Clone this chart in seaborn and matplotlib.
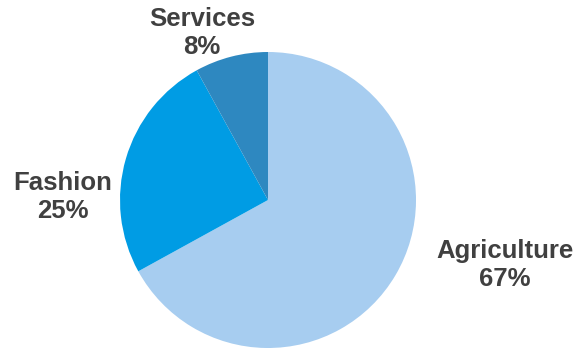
import matplotlib
matplotlib.use("Agg")
import matplotlib.pyplot as plt
import seaborn as sns

sns.set_style("white")
plt.rcParams['font.family'] = ['Liberation Sans', 'DejaVu Sans']

categories = ["Agriculture", "Fashion", "Services"]
values = [67, 25, 8]
colors = ["#A7CDF0", "#009CE4", "#2E88C0"]

W, H = 586, 349
fig = plt.figure(figsize=(W / 100, H / 100), dpi=100)
cx, cy, r = 268, 200, 148
ax = fig.add_axes([(cx - r) / W, (H - cy - r) / H, 2 * r / W, 2 * r / H])
ax.pie(values, colors=colors, startangle=90, counterclock=False, radius=1,
       wedgeprops=dict(linewidth=0))
ax.set_xlim(-1, 1)
ax.set_ylim(-1, 1)
ax.set_aspect("equal")
ax.axis("off")

label_pos = [(1.60, -0.44), (-1.385, 0.02), (-0.446, 1.128)]
total = sum(values)
for cat, v, (x, y) in zip(categories, values, label_pos):
    ax.text(x, y, f"{cat}\n{round(100 * v / total)}%", ha="center", va="center",
            fontsize=18.5, fontweight="bold", color="#404040", linespacing=1.25,
            clip_on=False)

fig.savefig("out.png", dpi=100)
